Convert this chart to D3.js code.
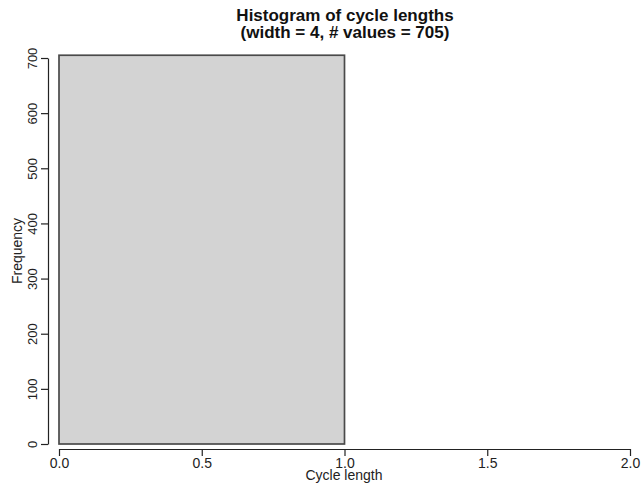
<!DOCTYPE html>
<html>
<head>
<meta charset="utf-8">
<script src="https://cdn.jsdelivr.net/npm/d3@7"></script>
<style>
  html, body { margin: 0; padding: 0; background: #fff; }
  svg { display: block; }
  text { font-family: "Liberation Sans", Arial, Helvetica, sans-serif; fill: #222; }
</style>
</head>
<body>
<svg id="chart" width="641" height="485"></svg>
<script>
// Histogram bins (left edges, right edges) and their counts
const binStarts = [0, 1];
const binEnds = [1, 2];
const counts = [705, 0];

const xTicks = [0, 0.5, 1, 1.5, 2];
const yTicks = [0, 100, 200, 300, 400, 500, 600, 700];

const titleLines = ["Histogram of cycle lengths", "(width = 4, # values = 705)"];
const xLabel = "Cycle length";
const yLabel = "Frequency";

const svg = d3.select("#chart");

const x = d3.scaleLinear().domain([0, 2]).range([59, 630]);
const y = d3.scaleLinear().domain([0, 700]).range([444, 58]);

// bars
svg.append("g")
  .selectAll("rect")
  .data(counts.map((c, i) => ({ x0: binStarts[i], x1: binEnds[i], n: c })))
  .join("rect")
  .attr("x", d => x(d.x0))
  .attr("y", d => y(d.n))
  .attr("width", d => x(d.x1) - x(d.x0))
  .attr("height", d => y(0) - y(d.n))
  .attr("fill", "#d3d3d3")
  .attr("stroke", "#4a4a4a")
  .attr("stroke-width", 1.7);

// x axis
const xAxis = svg.append("g")
  .attr("transform", "translate(0,449)")
  .call(d3.axisBottom(x).tickValues(xTicks).tickSize(7).tickSizeOuter(0)
    .tickFormat(d3.format(".1f")));
xAxis.select(".domain").attr("stroke", "#222").attr("stroke-width", 1.2);
xAxis.selectAll(".tick line").attr("stroke", "#222").attr("stroke-width", 1.2);
xAxis.selectAll(".tick text")
  .attr("y", 9).attr("font-size", 14).style("fill", "#222");

// y axis
const yAxis = svg.append("g")
  .attr("transform", "translate(48,0)")
  .call(d3.axisLeft(y).tickValues(yTicks).tickSize(7).tickSizeOuter(0));
yAxis.select(".domain").attr("stroke", "#222").attr("stroke-width", 1.2);
yAxis.selectAll(".tick line").attr("stroke", "#222").attr("stroke-width", 1.2);
yAxis.selectAll(".tick text")
  .attr("transform", "rotate(-90)")
  .attr("x", 0).attr("y", -11).attr("dy", 0)
  .attr("text-anchor", "middle")
  .attr("font-size", 13).style("fill", "#222");

// titles
svg.append("g").selectAll("text")
  .data(titleLines)
  .join("text")
  .attr("x", 345)
  .attr("y", (d, i) => 21 + i * 17)
  .attr("text-anchor", "middle")
  .attr("font-size", 17)
  .attr("font-weight", "bold")
  .style("fill", "#111")
  .text(d => d);

svg.append("text")
  .attr("x", 344).attr("y", 480)
  .attr("text-anchor", "middle")
  .attr("font-size", 14)
  .text(xLabel);

svg.append("text")
  .attr("transform", "translate(22,251) rotate(-90)")
  .attr("text-anchor", "middle")
  .attr("font-size", 14)
  .text(yLabel);
</script>
</body>
</html>
